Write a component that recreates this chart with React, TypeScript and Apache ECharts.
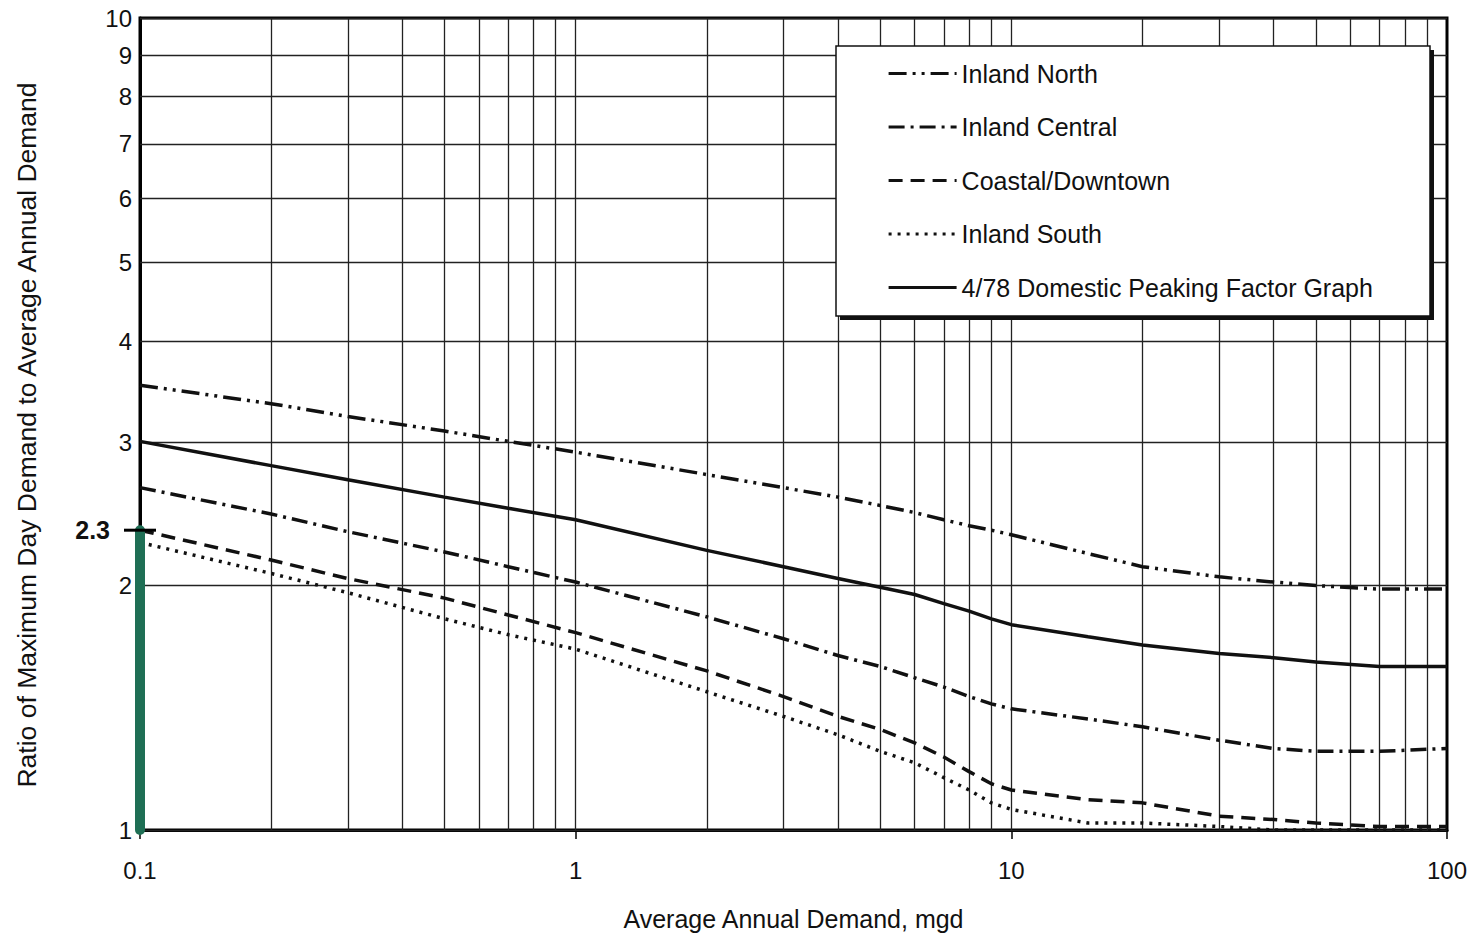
import React, { useEffect, useRef } from 'react';
import * as echarts from 'echarts';

// Average annual demand, mgd (x positions of the read-off points)
const X_VALUES = [0.1, 0.2, 0.3, 0.5, 0.7, 1, 2, 3, 4, 5, 6, 7, 8, 9, 10, 15, 20, 30, 40, 50, 70, 100];

// Ratio of maximum day demand to average annual demand
const INLAND_NORTH = [3.53, 3.35, 3.23, 3.10, 3.01, 2.92, 2.74, 2.64, 2.57, 2.51, 2.46, 2.41, 2.37, 2.34, 2.31, 2.19, 2.11, 2.05, 2.02, 2.00, 1.98, 1.98];
const INLAND_CENTRAL = [2.64, 2.45, 2.33, 2.20, 2.11, 2.02, 1.83, 1.72, 1.64, 1.59, 1.54, 1.50, 1.46, 1.43, 1.41, 1.37, 1.34, 1.29, 1.26, 1.25, 1.25, 1.26];
const COASTAL_DOWNTOWN = [2.34, 2.15, 2.04, 1.93, 1.84, 1.75, 1.57, 1.46, 1.38, 1.33, 1.28, 1.23, 1.18, 1.14, 1.12, 1.09, 1.08, 1.04, 1.03, 1.02, 1.01, 1.01];
const INLAND_SOUTH = [2.26, 2.07, 1.96, 1.82, 1.74, 1.67, 1.48, 1.38, 1.31, 1.25, 1.21, 1.16, 1.12, 1.08, 1.06, 1.02, 1.02, 1.01, 1.00, 1.00, 1.00, 1.00];
const DOMESTIC_1978 = [3.01, 2.81, 2.70, 2.57, 2.49, 2.41, 2.21, 2.11, 2.04, 1.99, 1.95, 1.90, 1.86, 1.82, 1.79, 1.73, 1.69, 1.65, 1.63, 1.61, 1.59, 1.59];

const SERIES_NAMES = [
  'Inland North',
  'Inland Central',
  'Coastal/Downtown',
  'Inland South',
  '4/78 Domestic Peaking Factor Graph',
];

// Grid lines and tick labels
const Y_TICKS = [1, 2, 3, 4, 5, 6, 7, 8, 9, 10];
const X_GRID = [0.2, 0.3, 0.4, 0.5, 0.6, 0.7, 0.8, 0.9, 1, 2, 3, 4, 5, 6, 7, 8, 9, 10, 20, 30, 40, 50, 60, 70, 80, 90];

// Hand-drawn highlight (bar drawn up to the Coastal/Downtown start, annotated "2.3")
const MARKER_X = 0.1;
const MARKER_LOW = 1;
const MARKER_TOP = 2.34;
const MARKER_LABEL = '2.3';

const FONT = 'Liberation Sans, Arial, Helvetica, sans-serif';
const INK = '#111';

const pairs = (ys: number[]) => X_VALUES.map((x, i) => [x, ys[i]]);

export default function App() {
  const ref = useRef<HTMLDivElement>(null);

  useEffect(() => {
    document.body.style.margin = '0';
    if (!ref.current) return;
    const chart = echarts.init(ref.current, undefined, { renderer: 'svg' });

    const curve = (name: string, ys: number[], type: any) => ({
      name,
      type: 'line',
      data: pairs(ys),
      symbol: 'none',
      z: 3,
      color: INK,
      lineStyle: { color: INK, width: 3.5, type, cap: 'butt' },
    });

    const option: any = {
      animation: false,
      backgroundColor: '#fff',
      textStyle: { fontFamily: FONT, color: INK },
      grid: {
        left: 140,
        right: 31,
        top: 18,
        bottom: 109,
        show: true,
        borderColor: '#000',
        borderWidth: 3,
        backgroundColor: 'transparent',
      },
      xAxis: {
        type: 'log',
        logBase: 10,
        min: 0.1,
        max: 100,
        axisLine: { show: true, lineStyle: { color: '#000', width: 3 } },
        axisTick: { show: true, length: 9, lineStyle: { color: '#000', width: 1.5 } },
        axisLabel: {
          fontSize: 24,
          color: INK,
          margin: 28,
          fontFamily: FONT,
          formatter: (v: number) => String(Number(v.toPrecision(6))),
        },
        splitLine: { show: false },
        name: 'Average Annual Demand, mgd',
        nameLocation: 'middle',
        nameGap: 76,
        nameTextStyle: { fontSize: 25, color: INK, fontFamily: FONT },
      },
      yAxis: {
        type: 'log',
        logBase: 10,
        min: 1,
        max: 10,
        axisLine: { show: true, lineStyle: { color: '#000', width: 3 } },
        axisTick: { show: false },
        axisLabel: { show: false },
        splitLine: { show: false },
      },
      legend: {
        orient: 'vertical',
        left: 882,
        top: 56,
        itemWidth: 68,
        itemHeight: 14,
        itemGap: 28.5,
        data: SERIES_NAMES,
        itemStyle: { opacity: 0 },
        lineStyle: { width: 3.2 },
        textStyle: { fontSize: 25, color: INK, fontFamily: FONT },
        selectedMode: false,
        z: 6,
      },
      graphic: [
        {
          type: 'rect',
          z: 4,
          shape: { x: 840, y: 50, width: 594, height: 270 },
          style: { fill: '#111' },
        },
        {
          type: 'rect',
          z: 5,
          shape: { x: 836, y: 46, width: 594, height: 270 },
          style: { fill: '#fff', stroke: '#111', lineWidth: 1.5 },
        },
        {
          type: 'text',
          z: 5,
          x: 27,
          y: 435,
          rotation: Math.PI / 2,
          style: {
            text: 'Ratio of Maximum Day Demand to Average Annual Demand',
            fontSize: 26.5,
            fontFamily: FONT,
            fill: INK,
            align: 'center',
            verticalAlign: 'middle',
          },
        },
      ],
      series: [
        {
          name: 'grid',
          type: 'line',
          data: [],
          symbol: 'none',
          z: 1,
          silent: true,
          lineStyle: { opacity: 0 },
          markLine: {
            z: 1,
            silent: true,
            symbol: ['none', 'none'],
            animation: false,
            lineStyle: { color: '#222', width: 1.3, type: 'solid' },
            data: [
              ...X_GRID.map((v) => ({ xAxis: v, label: { show: false } })),
              ...Y_TICKS.map((v) => ({
                yAxis: v,
                label: {
                  show: true,
                  position: 'start',
                  distance: 8,
                  formatter: String(v),
                  fontSize: 24,
                  color: INK,
                  fontFamily: FONT,
                },
              })),
            ],
          },
        },
        curve(SERIES_NAMES[0], INLAND_NORTH, [18, 6, 3, 6, 3, 6]),
        curve(SERIES_NAMES[1], INLAND_CENTRAL, [16, 6, 3, 6]),
        curve(SERIES_NAMES[2], COASTAL_DOWNTOWN, [14, 8]),
        curve(SERIES_NAMES[3], INLAND_SOUTH, [3, 6]),
        curve(SERIES_NAMES[4], DOMESTIC_1978, 'solid'),
        {
          name: 'marker',
          type: 'line',
          clip: false,
          z: 4,
          data: [
            [MARKER_X, MARKER_LOW],
            {
              value: [MARKER_X, MARKER_TOP],
              symbol: 'rect',
              symbolSize: [32, 3],
              itemStyle: { color: '#000' },
              label: {
                show: true,
                position: 'left',
                distance: 14,
                formatter: MARKER_LABEL,
                fontSize: 25,
                fontWeight: 'bold',
                color: INK,
                fontFamily: FONT,
              },
            },
          ],
          symbol: 'none',
          lineStyle: { color: '#1f6f55', width: 10, cap: 'round' },
        },
      ],
    };

    chart.setOption(option);
    return () => chart.dispose();
  }, []);

  return <div ref={ref} style={{ width: 1478, height: 939 }} />;
}
